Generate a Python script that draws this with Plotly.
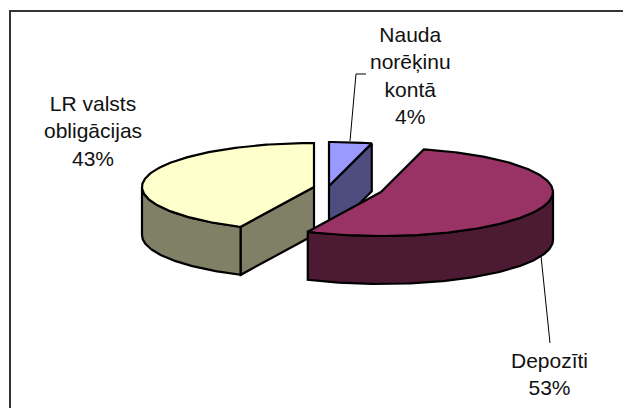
import numpy as np
import plotly.graph_objects as go

categories = ["Nauda<br>norēķinu<br>kontā", "Depozīti", "LR valsts<br>obligācijas"]
shares = [4, 53, 43]

TOP = ["#9999FF", "#993366", "#FFFFCC"]
SIDE = ["#4D4D80", "#4D1A33", "#808066"]
CENTRES = [(329, 186), (381, 192), (314, 187)]
RX, RY, DEPTH = 172, 44, 48
LW = 2.2


def pt(c, t, dz=0):
    r = np.radians(t)
    return c[0] + RX * np.sin(r), c[1] - RY * np.cos(r) + dz


def arc(c, a, b, dz=0):
    ts = np.linspace(a, b, max(2, int(abs(b - a)) + 1))
    return [pt(c, t, dz) for t in ts]


def poly(points, fill):
    xs = [p[0] for p in points] + [points[0][0]]
    ys = [p[1] for p in points] + [points[0][1]]
    return go.Scatter(x=xs, y=ys, mode="lines", fill="toself", fillcolor=fill,
                      line=dict(color="#000000", width=LW, shape="linear"),
                      hoverinfo="skip", showlegend=False)


edges = np.concatenate([[0], np.cumsum(shares)]) * 3.6
spans = [(edges[i], edges[i + 1]) for i in range(len(shares))]

fig = go.Figure()

# LR valsts obligacijas (drawn first, furthest back)
c = CENTRES[2]
a, b = spans[2]
fig.add_trace(poly(arc(c, a, 270) + arc(c, 270, a, DEPTH), SIDE[2]))
fig.add_trace(poly([pt(c, a), c, (c[0], c[1] + DEPTH), pt(c, a, DEPTH)], SIDE[2]))
fig.add_trace(poly([c] + arc(c, a, b), TOP[2]))

# Nauda norekinu konta
c = CENTRES[0]
a, b = spans[0]
fig.add_trace(poly([c, pt(c, b), pt(c, b, DEPTH), (c[0], c[1] + DEPTH)], SIDE[0]))
fig.add_trace(poly([c] + arc(c, a, b), TOP[0]))

# Depoziti
c = CENTRES[1]
a, b = spans[1]
fig.add_trace(poly(arc(c, 90, b) + arc(c, b, 90, DEPTH), SIDE[1]))
fig.add_trace(poly([c] + arc(c, a, b), TOP[1]))

# Leader lines
for xs, ys in [([350, 356, 366], [141, 74, 74]), ([541, 550], [256, 343])]:
    fig.add_trace(go.Scatter(x=xs, y=ys, mode="lines", line=dict(color="#000000", width=1),
                             hoverinfo="skip", showlegend=False))

# Frame: top and left edges
fig.add_trace(go.Scatter(x=[10, 10, 623], y=[408, 11, 11], mode="lines",
                         line=dict(color="#333333", width=2),
                         hoverinfo="skip", showlegend=False))

label_pos = [(410, 75), (549, 374), (93, 131)]
for name, share, (x, y) in zip(categories, shares, label_pos):
    fig.add_annotation(x=x, y=y, text=f"{name}<br>{share}%", showarrow=False,
                       xanchor="center", yanchor="middle", align="center",
                       font=dict(family="Liberation Sans, Arial, sans-serif", size=21, color="#111111"))

fig.update_xaxes(range=[0, 623], visible=False, fixedrange=True)
fig.update_yaxes(range=[408, 0], visible=False, fixedrange=True)
fig.update_layout(width=623, height=408, margin=dict(l=0, r=0, t=0, b=0),
                  paper_bgcolor="#FFFFFF", plot_bgcolor="#FFFFFF", showlegend=False)
fig.write_html("out.html", config={"displayModeBar": False},
               post_script="document.body.style.margin='0';document.body.style.overflow='hidden';")
